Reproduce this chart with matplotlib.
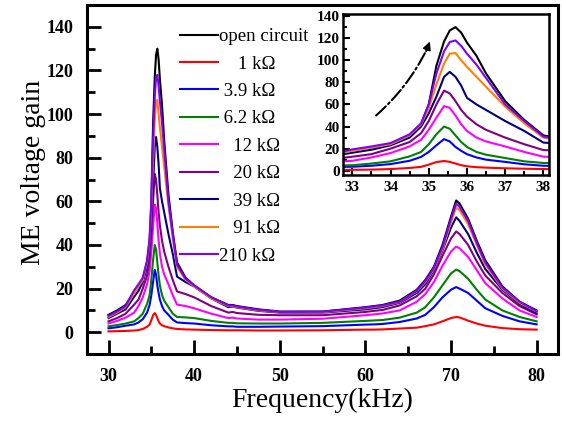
import numpy as np
import matplotlib
matplotlib.use('Agg')
import matplotlib.pyplot as plt
from matplotlib.ticker import MultipleLocator

plt.rcParams['font.family'] = ['Liberation Serif', 'DejaVu Serif']
plt.rcParams['mathtext.fontset'] = 'stix'

# frequency points (kHz)
freq = [30, 31, 32, 33, 33.5, 34, 34.5, 34.8, 35.0, 35.2, 35.4, 35.55, 35.7, 35.85,
        36.0, 36.25, 36.5, 37, 37.5, 38, 39, 40, 42, 44, 44.5, 45, 47.5, 50, 55,
        60, 61, 62, 64, 66, 67, 68, 69, 70, 70.6, 71, 72, 73, 74, 76, 78, 80]

g_open = [8, 10, 12.5,
          18.5, 21, 24.5, 32, 42, 60, 95, 117, 127, 130, 125, 116, 104, 88, 63, 46, 32,
          25, 21.5, 16, 12.5, 12.5, 12, 10.5, 9.5, 9.5,
          11.5, 12, 12.5, 14.5, 19.5, 24, 30, 40, 53, 60.4, 59, 52, 42, 33, 21, 14, 10]
g_1k = [0.4, 0.5, 0.6,
        0.8, 1.0, 1.5, 2.5, 3.5, 5.5, 7.8, 8.8, 8, 6.5, 5, 4, 3.2, 2.8, 2.2, 1.8, 1.5,
        1.3, 1.2, 1, 0.9, 0.9, 0.9, 0.8, 0.8, 0.9,
        1.2, 1.2, 1.3, 1.7, 2.1, 2.8, 3.6, 5, 6.5, 7, 6.8, 5.3, 4, 3, 1.9, 1.4, 1.2]
g_3k9 = [1.8, 2.3, 3,
         3.6, 4.5, 6, 9, 12.5, 17, 23, 28.6, 26.5, 21.5, 18, 15, 12, 10, 8, 5.8, 4.5,
         4.2, 4, 3.2, 2.7, 2.7, 2.5, 2.5, 2.6, 2.8,
         3.5, 3.6, 3.8, 4.7, 6.3, 8, 11.5, 16, 19.5, 20.7, 20, 18, 14.5, 11, 7.5, 5, 3.6]
g_6k2 = [2.7, 3.3, 4,
         5, 6.5, 8.5, 13, 17, 24, 33, 40, 38, 32, 26, 21.5, 17, 14.5, 11.5, 8.5, 7,
         6.8, 6.5, 5.2, 4.3, 4.3, 4.1, 4, 4, 4.3,
         5.2, 5.4, 5.6, 6.7, 9, 11.5, 16, 21.5, 27, 28.7, 28, 24.5, 19.5, 15, 10, 7, 5]
g_12k = [4, 5.2, 6.7,
         9, 12, 16, 22, 28, 37, 48, 58.5, 57, 50, 42, 36, 30, 26.5, 22, 17, 12.7,
         12, 11, 8.5, 6.5, 6.7, 6.3, 5.8, 5.8, 6.2,
         7.8, 8.2, 8.6, 10, 14, 17.5, 23, 30.5, 37, 39.3, 38.5, 34.5, 28.5, 22.5, 15.5, 10, 7]
g_20k = [5, 6.5, 8.5,
         12.7, 15, 20, 26, 34, 45, 60, 72.5, 70, 63, 55, 49, 42, 37, 30, 24, 18.7,
         17.5, 16, 12, 9, 9.3, 8.8, 8, 7.8, 7.8,
         9.3, 9.8, 10.2, 12.3, 16.5, 20, 26.5, 35, 43, 46.2, 45, 40, 32.5, 26, 18, 12, 8.2]
g_39k = [6.5, 8.5, 10.5,
         16.3, 19, 23, 30, 40, 52, 67, 85, 89.5, 85, 77, 66, 60, 55, 45, 36, 25.5,
         23, 21, 15.5, 11.5, 11.8, 11.3, 9.8, 9, 9,
         10.5, 11, 11.5, 13.5, 18, 22, 28.5, 37.5, 48, 52.7, 51, 45, 36.5, 29, 19.5, 13, 8.7]
g_91k = [7, 9, 11.5,
         18, 21, 24, 32, 42, 57, 78, 97, 106, 106.5, 100, 94, 85, 76, 58, 43, 30,
         24, 21, 15.5, 12, 12, 11.5, 10, 9.2, 9.2,
         11, 11.5, 12, 13.8, 18.8, 23, 29, 38, 50.5, 57.3, 56, 49.5, 40, 31, 20, 13.5, 9.5]
g_210k = [7.5, 9.5, 12,
          19.3, 22, 25, 33, 43, 60, 88, 108, 116.5, 118, 113, 106, 96, 84, 60, 45, 31,
          24.5, 21.5, 16, 12.3, 12.3, 11.8, 10.3, 9.3, 9.4,
          11.3, 11.8, 12.3, 14, 19, 23.5, 29.5, 39, 52, 59, 57.5, 51, 41, 32, 20.5, 14, 9.6]

labels = ['open circuit', '    1 k\u03a9', ' 3.9 k\u03a9', ' 6.2 k\u03a9', '   12 k\u03a9',
          '   20 k\u03a9', '   39 k\u03a9', '   91 k\u03a9', '210 k\u03a9']
colors = ['#000000', '#ff0000', '#0000ff', '#008000', '#ff00ff',
          '#800080', '#000080', '#ff8000', '#8000ff']
series = [g_open, g_1k, g_3k9, g_6k2, g_12k, g_20k, g_39k, g_91k, g_210k]

fig = plt.figure(figsize=(5.62, 4.21), dpi=100)
ax = fig.add_axes([0.155, 0.159, 0.838, 0.829])

for y, c, lab in zip(series, colors, labels):
    ax.plot(freq, y, color=c, lw=1.5, label=lab)

ax.set_xlim(27.5, 82.5)
ax.set_ylim(-10, 150)
ax.xaxis.set_major_locator(MultipleLocator(10))
ax.xaxis.set_minor_locator(MultipleLocator(5))
ax.yaxis.set_major_locator(MultipleLocator(20))
ax.yaxis.set_minor_locator(MultipleLocator(10))
ax.set_yticks(np.arange(0, 141, 20))
ax.tick_params(which='both', direction='in', width=2, top=False, right=False)
ax.tick_params(which='major', length=10, labelsize=13)
ax.tick_params(axis='x', which='major', pad=10)
ax.tick_params(axis='y', which='major', pad=10)
ax.tick_params(which='minor', length=6)
for lbl in ax.get_xticklabels() + ax.get_yticklabels():
    lbl.set_fontweight('bold')
for s in ax.spines.values():
    s.set_linewidth(2.2)
ax.set_xlabel('Frequency(kHz)', fontsize=20)
ax.set_ylabel('ME voltage gain', fontsize=20)
ax.xaxis.set_label_coords(0.5, -0.098)
ax.yaxis.set_label_coords(-0.088, 0.52)

leg = ax.legend(loc='upper left', bbox_to_anchor=(180 / 562, 1 - 28 / 421),
                bbox_transform=fig.transFigure, frameon=False, fontsize=13.5,
                handlelength=2.0, handletextpad=0.1, labelspacing=0.55,
                borderpad=0, borderaxespad=0)

# inset
axin = fig.add_axes([0.610, 0.584, 0.367, 0.383])
for y, c in zip(series, colors):
    axin.plot(freq, y, color=c, lw=1.5)
axin.set_xlim(32.75, 38.15)
axin.set_ylim(-4, 142)
axin.xaxis.set_major_locator(MultipleLocator(1))
axin.xaxis.set_minor_locator(MultipleLocator(0.5))
axin.yaxis.set_major_locator(MultipleLocator(20))
axin.yaxis.set_minor_locator(MultipleLocator(10))
axin.set_yticks(np.arange(0, 141, 20))
axin.tick_params(which='both', direction='in', width=1.5, top=False, right=False)
axin.tick_params(which='major', length=5, labelsize=11)
axin.tick_params(axis='y', which='major', pad=2)
axin.tick_params(axis='x', which='major', pad=4)
axin.tick_params(which='minor', length=3)
for lbl in axin.get_xticklabels() + axin.get_yticklabels():
    lbl.set_fontweight('bold')
for s in axin.spines.values():
    s.set_linewidth(1.8)

axin.annotate('', xy=(34.95, 110), xytext=(33.62, 50),
              arrowprops=dict(arrowstyle='-', linestyle='-.', lw=1.5, color='black',
                              connectionstyle='arc3,rad=0.1', shrinkA=0, shrinkB=0))
axin.annotate('', xy=(35.03, 117), xytext=(34.93, 108),
              arrowprops=dict(arrowstyle='-|>', lw=1.2, color='black',
                              mutation_scale=12, shrinkA=0, shrinkB=0))

fig.savefig('out.png', dpi=100)
